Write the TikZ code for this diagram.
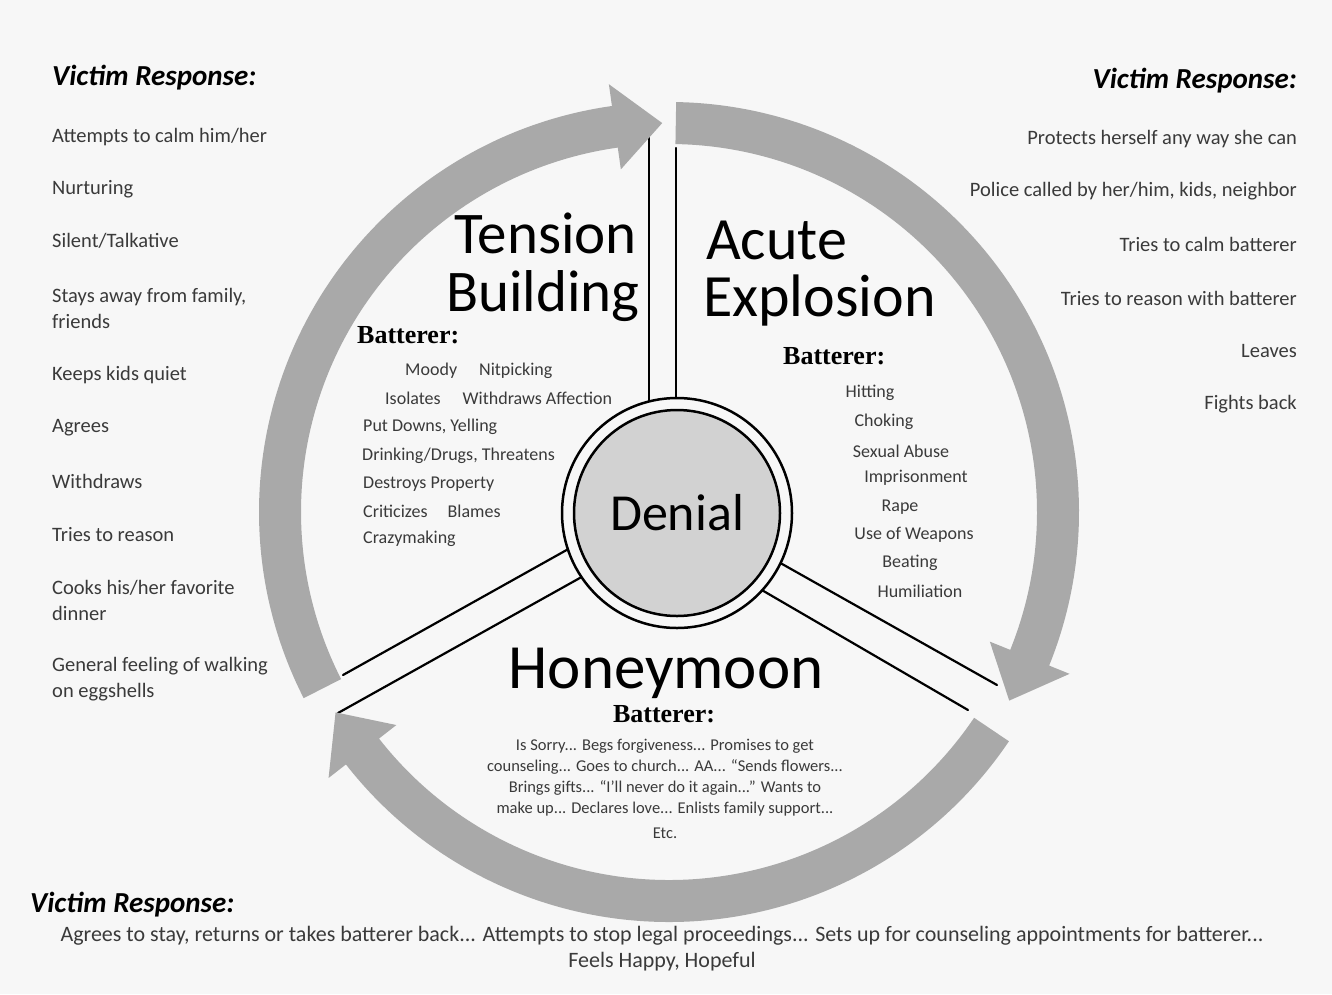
\documentclass[tikz,border=0pt]{standalone}
\usepackage{fontspec}
\setmainfont{Carlito}
\newfontfamily\batfont{Liberation Serif}
\definecolor{bgc}{HTML}{F7F7F7}
\definecolor{ringgray}{HTML}{A9A9A9}
\definecolor{denialfill}{HTML}{D2D2D2}
\definecolor{smalltext}{HTML}{3A3A3A}
\begin{document}
\begin{tikzpicture}[x=1pt,y=-1pt,
  vr/.style={font=\fontsize{29}{34}\selectfont\bfseries\itshape, inner sep=0},
  item/.style={font=\fontsize{20.5}{26}\selectfont, inner sep=0, text=smalltext},
  title/.style={font=\fontsize{60}{45}\selectfont, inner sep=0},
  bat/.style={font=\batfont\fontsize{26}{30}\selectfont\bfseries, inner sep=0},
  blist/.style={font=\fontsize{18}{20}\selectfont, inner sep=0, text=smalltext},
  hlist/.style={font=\fontsize{16.5}{21}\selectfont, inner sep=0, text=smalltext, align=center},
  spoke/.style={line width=2.2pt, line cap=round},
  ringarrow/.style={fill=ringgray}]
\useasboundingbox (0,0) rectangle (1332,994);
\fill[bgc] (0,0) rectangle (1332,994);

% spokes
\coordinate (t1a) at (649,415); \coordinate (t1b) at (649,133);
\coordinate (t2a) at (676,412); \coordinate (t2b) at (676,148);
\coordinate (la) at (584.5,540); \coordinate (lb) at (343,675);
\coordinate (lc) at (599.5,567); \coordinate (ld) at (338,713);
\coordinate (ra) at (762.6,553); \coordinate (rb) at (997,685);
\coordinate (rc) at (744.6,580); \coordinate (rd) at (968,710);
\draw[spoke] (t1a) -- (t1b);
\draw[spoke] (t2a) -- (t2b);
\draw[spoke] (la) -- (lb);
\draw[spoke] (lc) -- (ld);
\draw[spoke] (ra) -- (rb);
\draw[spoke] (rc) -- (rd);

% ring arrows
\begin{scope}[shift={(669,512)}]
\fill[ringarrow] (153:410) arc[start angle=153,end angle=262,radius=410]
  -- (262:432) -- (269:389) -- (262:346) -- (262:368)
  arc[start angle=262,end angle=153,radius=368] -- cycle;
\fill[ringarrow] (271:410) arc[start angle=271,end angle=382,radius=410]
  -- (382:432) -- (389:389) -- (382:346) -- (382:368)
  arc[start angle=382,end angle=271,radius=368] -- cycle;
\fill[ringarrow] (34:410) arc[start angle=34,end angle=142,radius=410]
  -- (142:432) -- (149:389) -- (142:346) -- (142:368)
  arc[start angle=142,end angle=34,radius=368] -- cycle;
\end{scope}

% Denial
\draw[line width=2.5pt, fill=bgc] (677,513) circle[radius=115];
\node[circle, draw, line width=2.5pt, fill=denialfill, minimum size=206pt, inner sep=0,
  font=\fontsize{52}{56}\selectfont] (denial) at (677,513) {Denial};

% titles
\node[title, anchor=base east, font=\fontsize{59}{45}\selectfont] (tens) at (637,253) {Tension};
\node[title, anchor=base east, font=\fontsize{59}{45}\selectfont] (build) at (640,311) {Building};
\node[title, anchor=base west] (acute) at (706,259) {Acute};
\node[title, anchor=base west] (explo) at (703,316) {Explosion};
\node[title, anchor=base, font=\fontsize{63}{45}\selectfont] (honey) at (666,688) {Honeymoon};

% batterer headings
\node[bat, anchor=west] (bat1) at (357,335) {Batterer:};
\node[bat, anchor=west] (bat2) at (783,356) {Batterer:};
\node[bat] (bat3) at (664,714) {Batterer:};

% tension list
\node[blist, anchor=west] (t1) at (405,371) {Moody\hspace{22pt}Nitpicking};
\node[blist, anchor=west] (t2) at (385,398) {Isolates\hspace{22pt}Withdraws Affection};
\node[blist, anchor=west] (t3) at (363,427) {Put Downs, Yelling};
\node[blist, anchor=west] (t4) at (362,456) {Drinking/Drugs, Threatens};
\node[blist, anchor=west] (t5) at (363,484) {Destroys Property};
\node[blist, anchor=west] (t6) at (363,511) {Criticizes\hspace{20pt}Blames};
\node[blist, anchor=west] (t7) at (363,539) {Crazymaking};

% acute list
\node[blist] (a1) at (870,393) {Hitting};
\node[blist] (a2) at (884,422) {Choking};
\node[blist] (a3) at (901,451) {Sexual Abuse};
\node[blist] (a4) at (916,478) {Imprisonment};
\node[blist] (a5) at (900,507) {Rape};
\node[blist] (a6) at (914,535) {Use of Weapons};
\node[blist] (a7) at (910,563) {Beating};
\node[blist] (a8) at (920,591) {Humiliation};

% honeymoon list
\node[hlist, anchor=north] (hl) at (665,739) {Is Sorry... Begs forgiveness... Promises to get\\
counseling... Goes to church... AA... ``Sends flowers...\\
Brings gifts... ``I'll never do it again...'' Wants to\\
make up... Declares love... Enlists family support...\\[4pt]
Etc.};

% left victim response
\node[vr, anchor=west] (vrl) at (52,78) {Victim Response:};
\node[item, anchor=west] (l1) at (52,137) {Attempts to calm him/her};
\node[item, anchor=west] (l2) at (52,189) {Nurturing};
\node[item, anchor=west] (l3) at (52,241) {Silent/Talkative};
\node[item, anchor=west, align=left] (l4) at (52,308) {Stays away from family,\\friends};
\node[item, anchor=west] (l5) at (52,375) {Keeps kids quiet};
\node[item, anchor=west] (l6) at (52,428) {Agrees};
\node[item, anchor=west] (l7) at (52,481) {Withdraws};
\node[item, anchor=west] (l8) at (52,535) {Tries to reason};
\node[item, anchor=west, align=left] (l9) at (52,600) {Cooks his/her favorite\\dinner};
\node[item, anchor=west, align=left] (l10) at (52,679) {General feeling of walking\\on eggshells};

% right victim response
\node[vr, anchor=east] (vrr) at (1297,81) {Victim Response:};
\node[item, anchor=east] (r1) at (1297,139) {Protects herself any way she can};
\node[item, anchor=east] (r2) at (1297,191) {Police called by her/him, kids, neighbor};
\node[item, anchor=east] (r3) at (1297,244) {Tries to calm batterer};
\node[item, anchor=east] (r4) at (1297,298) {Tries to reason with batterer};
\node[item, anchor=east] (r5) at (1297,351) {Leaves};
\node[item, anchor=east] (r6) at (1297,404) {Fights back};

% bottom victim response
\node[vr, anchor=west] (vrb) at (30,905) {Victim Response:};
\node[item, align=center, font=\fontsize{22}{26}\selectfont] (b1) at (662,949) {Agrees to stay, returns or takes batterer back... Attempts to stop legal proceedings... Sets up for counseling appointments for batterer...\\Feels Happy, Hopeful};
\end{tikzpicture}
\end{document}
